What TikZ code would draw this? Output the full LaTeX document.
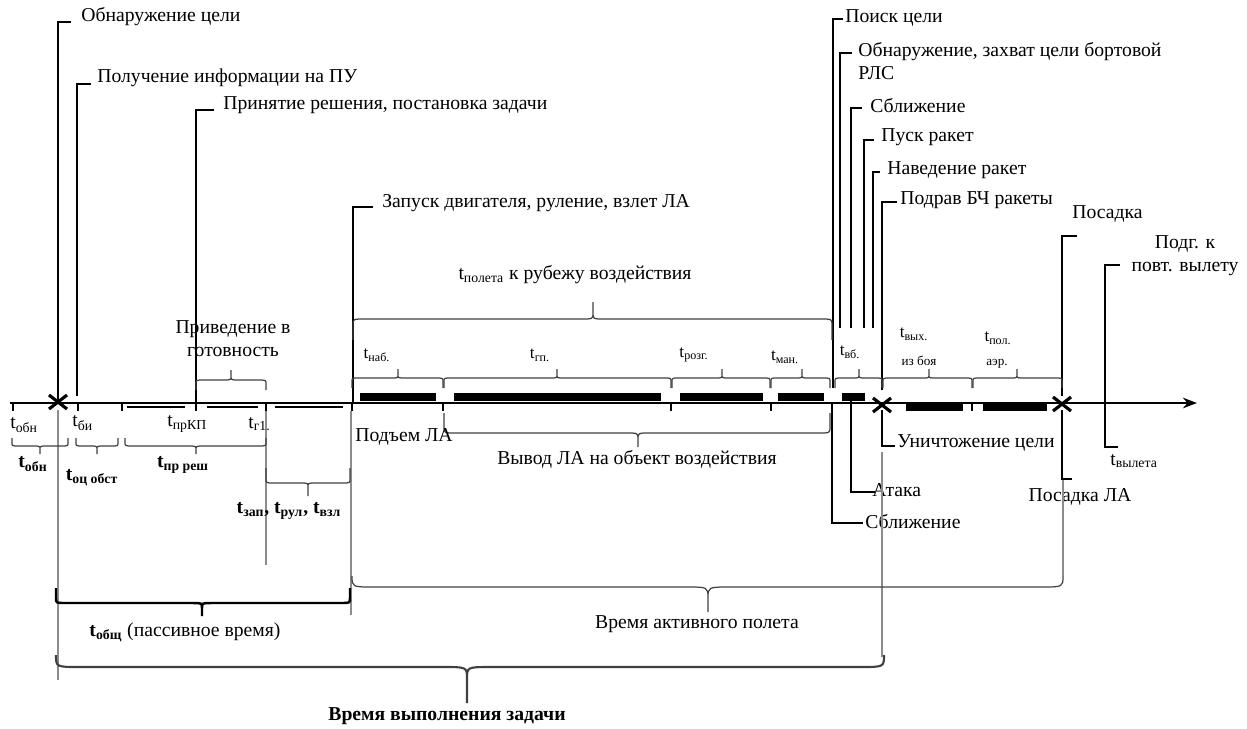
\documentclass[tikz,border=0pt]{standalone}
\usepackage{fontspec}
\setmainfont{Liberation Serif}
\usetikzlibrary{calc,arrows.meta}

\newcommand{\tl}[1]{t\textsubscript{#1}}

\tikzset{
 lbl/.style={inner sep=0pt, font=\fontsize{11.2}{13}\selectfont},
 slbl/.style={inner sep=0pt, font=\fontsize{9.8}{11}\selectfont},
 tlbl/.style={inner sep=0pt, font=\fontsize{7.5}{8}\selectfont},
 lead/.style={line width=0.9pt, black},
 drop/.style={line width=0.6pt, black!45},
 brc/.style={line width=0.7pt, black!75},
 axisline/.style={line width=1.5pt, -{Stealth[length=8pt,width=6pt]}},
 tk/.style={line width=1.6pt},
 xmark/.style={line width=1.8pt},
 thinbar/.style={line width=1.6pt},
}

% [style] x1 x2 xm yend yline ytip w
\newcommand{\hbrace}[8][]{%
 \draw[brc,#1] (#2,#5) -- ($(#2,#6)!{#8*0.2835pt}!(#2,#5)$) .. controls (#2,#6) .. (#2+#8,#6)
   -- (#4-#8,#6) .. controls (#4,#6) .. ($(#4,#6)!{#8*0.2835pt}!(#4,#7)$) -- (#4,#7)
   -- ($(#4,#6)!{#8*0.2835pt}!(#4,#7)$) .. controls (#4,#6) .. (#4+#8,#6)
   -- (#3-#8,#6) .. controls (#3,#6) .. ($(#3,#6)!{#8*0.2835pt}!(#3,#5)$) -- (#3,#5);
}

\begin{document}
\begin{tikzpicture}[x=0.02cm,y=-0.02cm]
\useasboundingbox (0,0) rectangle (1247,728);

% ---------- axis ----------
\coordinate (a0) at (10,403);
\coordinate (a1) at (1197,403);
\draw[axisline] (a0) -- (a1);
\foreach \x in {13,78,122,196,266,352,443,671,771,832,972,1105}
  \draw[tk] (\x,403) -- (\x,411);

% bars above axis
\foreach \a/\b in {360/436,454/661,680/763,778/824,842/865}
  \fill (\a,393) rectangle (\b,401);
% bars below axis
\foreach \a/\b in {906/963,983/1047}
  \fill (\a,404) rectangle (\b,411);
% thin bars
\foreach \a/\b in {127/185,207/258,275/343}
  \draw[thinbar] (\a,407) -- (\b,407);

% X marks
\foreach \x/\y in {58/402,882/405,1062/404}
  \draw[xmark] (\x-9,\y-7) -- (\x+9,\y+7) (\x-9,\y+7) -- (\x+9,\y-7);

% ---------- top-left labels ----------
\node[lbl,anchor=west] (n1) at (81,17) {Обнаружение цели};
\coordinate (h1) at (71,22); \coordinate (b1) at (58,401);
\draw[lead] (b1) |- (h1);

\node[lbl,anchor=west] (n2) at (97,78) {Получение информации на ПУ};
\coordinate (h2) at (91,84); \coordinate (b2) at (77,396);
\draw[lead] (b2) |- (h2);

\node[lbl,anchor=west] (n3) at (223,105) {Принятие решения, постановка задачи};
\coordinate (h3) at (214,110); \coordinate (b3) at (196,403);
\draw[lead] (b3) |- (h3);

\node[lbl,anchor=west] (n4) at (382,203) {Запуск двигателя, руление, взлет ЛА};
\coordinate (h4) at (373,207); \coordinate (b4) at (353,403);
\draw[lead] (b4) |- (h4);

% ---------- top-right labels ----------
\node[lbl,anchor=west] (r1) at (845,18) {Поиск цели};
\coordinate (hr1) at (843,19); \coordinate (br1) at (833,388);
\draw[lead] (br1) |- (hr1);

\node[lbl,anchor=west,align=left] (r2) at (858,61) {Обнаружение, захват цели бортовой\\РЛС};
\coordinate (hr2) at (852,53); \coordinate (br2) at (840,328);
\draw[lead] (br2) |- (hr2);

\node[lbl,anchor=west] (r3) at (870,106) {Сближение};
\coordinate (hr3) at (862,108); \coordinate (br3) at (851,328);
\draw[lead] (br3) |- (hr3);

\node[lbl,anchor=west] (r4) at (881,137) {Пуск ракет};
\coordinate (hr4) at (874,140); \coordinate (br4) at (864,328);
\draw[lead] (br4) |- (hr4);

\node[lbl,anchor=west] (r5) at (887,170) {Наведение ракет};
\coordinate (hr5) at (880,172); \coordinate (br5) at (873,328);
\draw[lead] (br5) |- (hr5);

\node[lbl,anchor=west] (r6) at (900,200) {Подрав БЧ ракеты};
\coordinate (hr6) at (897,202); \coordinate (br6) at (882,390);
\draw[lead] (br6) |- (hr6);

\node[lbl,anchor=west] (r7) at (1072,214) {Посадка};
\coordinate (hr7) at (1077,236); \coordinate (br7) at (1062,396);
\draw[lead] (br7) |- (hr7);

\node[lbl,align=center] (r8) at (1185,256) {Подг. к\\повт. вылету};
\coordinate (hr8) at (1120,265); \coordinate (br8) at (1105,403);
\draw[lead] (br8) |- (hr8);

% ---------- below-axis leaders ----------
\node[lbl,anchor=west] (s1) at (865,522) {Сближение};
\coordinate (c1) at (832,408); \coordinate (hc1) at (863,523);
\draw[lead] (c1) |- (hc1);

\node[lbl,anchor=west] (s2) at (872,490) {Атака};
\coordinate (c2) at (851,401); \coordinate (hc2) at (875,492);
\draw[lead] (c2) |- (hc2);

\node[lbl,anchor=west] (s3) at (897,443) {Уничтожение цели};
\coordinate (c3) at (882,410); \coordinate (hc3) at (895,446);
\draw[lead] (c3) |- (hc3);

\node[lbl] (s4) at (1080,497) {Посадка ЛА};
\coordinate (c4) at (1062,410); \coordinate (hc4) at (1072,479);
\draw[lead] (c4) |- (hc4);

\node[lbl,anchor=west] (s5) at (1110,461) {\tl{вылета}};
\coordinate (c5) at (1105,408); \coordinate (hc5) at (1118,447);
\draw[lead] (c5) |- (hc5);

% ---------- drop lines ----------
\draw[drop] (58,410) -- (58,680);
\draw[drop] (266,411) -- (266,565);
\draw[drop] (351,411) -- (351,615);
\draw[drop] (882,452) -- (882,657);
\draw[drop] (1063,480) -- (1063,576);

% ---------- braces above axis ----------
\hbrace{196}{266}{231}{390}{380}{370}{8}
\hbrace{353}{832}{593}{340}{319}{302}{12}
\hbrace{352}{443}{398}{388}{378}{369}{7}
\hbrace{444}{671}{557}{388}{378}{369}{7}
\hbrace{672}{770}{722}{388}{378}{369}{7}
\hbrace{771}{830}{802}{388}{378}{369}{7}
\hbrace{835}{882}{859}{388}{378}{369}{7}
\hbrace{883}{972}{929}{388}{378}{369}{7}
\hbrace{973}{1062}{1017}{388}{378}{369}{7}

% ---------- braces below axis ----------
\hbrace{12}{68}{40}{438}{446}{454}{7}
\hbrace{76}{118}{97}{438}{446}{454}{7}
\hbrace{125}{266}{196}{438}{446}{454}{8}
\hbrace{266}{350}{308}{468}{483}{496}{8}
\hbrace{444}{830}{638}{413}{433}{447}{12}
\hbrace[line width=1.4pt,black]{56}{350}{202}{588}{603}{616}{10}
\hbrace{352}{1063}{708}{576}{587}{612}{22}
\hbrace[line width=1.2pt]{56}{884}{467}{655}{667}{703}{24}

% ---------- time labels ----------
\node[lbl,anchor=west] (t1) at (10,425) {\tl{обн}};
\node[lbl,anchor=west] (t2) at (72,423) {\tl{би}};
\node[lbl,anchor=west] (t3) at (167,424) {\tl{прКП}};
\node[lbl,anchor=west] (t4) at (248,424) {\tl{г1.}};

\node[lbl] (tb1) at (33,464) {\textbf{\tl{обн}}};
\node[lbl] (tb2) at (92,478) {\textbf{\tl{оц обст}}};
\node[lbl] (tb3) at (183,465) {\textbf{\tl{пр реш}}};
\node[lbl] (tb4) at (289,511) {\textbf{\tl{зап}, \tl{рул}, \tl{взл}}};

\node[slbl] (u1) at (377,355) {\tl{наб.}};
\node[slbl] (u2) at (540,355) {\tl{гп.}};
\node[slbl] (u3) at (694,355) {\tl{розг.}};
\node[slbl] (u4) at (785,357) {\tl{ман.}};
\node[slbl] (u5) at (850,352) {\tl{вб.}};
\node[slbl] (u6) at (914,334) {\tl{вых.}};
\node[tlbl] (u6b) at (919,361) {из боя};
\node[slbl] (u7) at (998,338) {\tl{пол.}};
\node[tlbl] (u7b) at (997,364) {аэр.};

% ---------- phase labels ----------
\node[lbl,align=center] (p1) at (233,339) {Приведение в\\готовность};
\node[lbl] (p2) at (575,275) {\tl{полета} к рубежу воздействия};
\node[lbl,anchor=west] (p3) at (355,437) {Подъем ЛА};
\node[lbl] (p4) at (637,459) {Вывод ЛА на объект воздействия};
\node[lbl] (p5) at (697,624) {Время активного полета};
\node[lbl] (p6) at (185,632) {\textbf{t\textsubscript{общ}} (пассивное время)};
\node[lbl] (p7) at (447,716) {\textbf{Время выполнения задачи}};
\end{tikzpicture}
\end{document}
